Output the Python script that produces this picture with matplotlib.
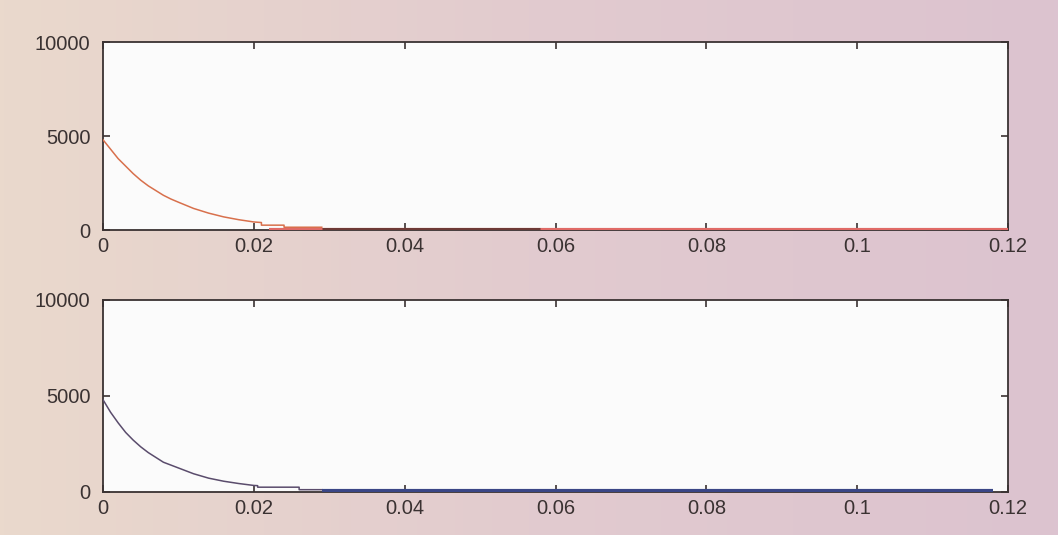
import numpy as np
import matplotlib.pyplot as plt
from matplotlib.colors import LinearSegmentedColormap

plt.rcParams['font.family'] = ['Liberation Sans', 'DejaVu Sans']

# upper trace: decay then stepped tail
t_top = [0, 0.001, 0.002, 0.003, 0.004, 0.005, 0.006, 0.007, 0.008, 0.009,
         0.010, 0.012, 0.014, 0.016, 0.018, 0.020, 0.021, 0.021, 0.024, 0.024, 0.029]
y_top = [4800, 4300, 3800, 3400, 3000, 2650, 2350, 2100, 1850, 1650,
         1480, 1150, 900, 700, 550, 430, 400, 260, 260, 150, 150]
tail_top_dark_t = [0.029, 0.058]
tail_top_dark_y = [70, 70]
tail_top_red_t = [0.022, 0.12]
tail_top_red_y = [0, 0]

# lower trace
t_bot = [0, 0.001, 0.002, 0.003, 0.004, 0.005, 0.006, 0.007, 0.008, 0.009,
         0.010, 0.012, 0.014, 0.016, 0.018, 0.020, 0.0205, 0.0205, 0.026, 0.026, 0.029]
y_bot = [4800, 4150, 3600, 3100, 2700, 2350, 2050, 1800, 1550, 1400,
         1250, 950, 720, 560, 440, 340, 330, 250, 250, 120, 120]
tail_bot_t = [0.029, 0.118]
tail_bot_y = [40, 40]

xticks = [0, 0.02, 0.04, 0.06, 0.08, 0.1, 0.12]
xlabels = ['0', '0.02', '0.04', '0.06', '0.08', '0.1', '0.12']
yticks = [0, 5000, 10000]

fig = plt.figure(figsize=(10.58, 5.35), dpi=100)

# paper-like backdrop, beige on the left fading to pink on the right
bg = fig.add_axes([0, 0, 1, 1], zorder=-10)
cmap = LinearSegmentedColormap.from_list('paper', ['#ead9cc', '#e2cbcf', '#dcc3d0'])
bg.imshow(np.tile(np.linspace(0, 1, 256), (8, 1)), cmap=cmap, aspect='auto',
          extent=[0, 1, 0, 1])
bg.set_axis_off()

ax1 = fig.add_axes([0.0974, 0.570, 0.8554, 0.3514])
ax2 = fig.add_axes([0.0974, 0.0804, 0.8554, 0.359])

ax1.plot(tail_top_red_t, tail_top_red_y, color='#e06a66', lw=3, solid_capstyle='butt', zorder=3)
ax1.plot(t_top, y_top, color='#d8704c', lw=1.1, zorder=4)
ax1.plot(tail_top_dark_t, tail_top_dark_y, color='#6e3a36', lw=2.2, solid_capstyle='butt', zorder=4)

ax2.plot(t_bot, y_bot, color='#5a4c6c', lw=1.1, zorder=4)
ax2.plot(tail_bot_t, tail_bot_y, color='#3a4686', lw=3, solid_capstyle='butt', zorder=4)

for ax in (ax1, ax2):
    ax.set_facecolor('#fbfbfb')
    ax.set_xlim(0, 0.12)
    ax.set_ylim(0, 10000)
    ax.set_xticks(xticks)
    ax.set_xticklabels(xlabels)
    ax.set_yticks(yticks)
    ax.tick_params(direction='in', top=True, right=True, length=5, width=1.2,
                   labelsize=14.5, colors='#3a3232')
    ax.tick_params(axis='y', pad=9)
    ax.tick_params(axis='x', pad=5)
    for s in ax.spines.values():
        s.set_linewidth(1.3)
        s.set_color('#3a3232')

fig.savefig('out.png', dpi=100)
